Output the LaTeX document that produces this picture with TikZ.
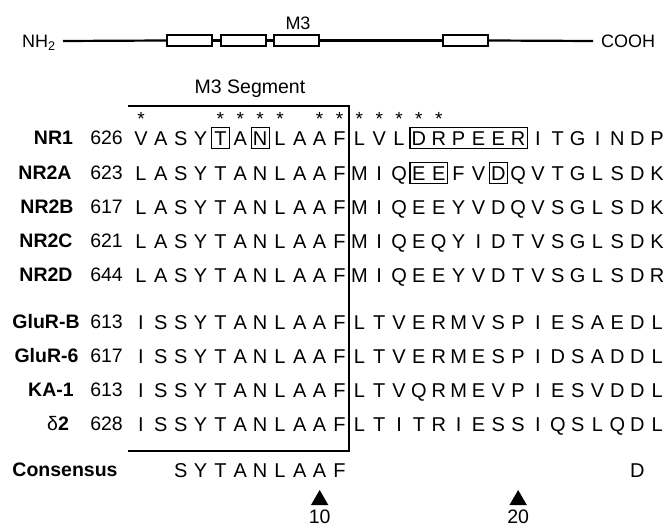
\documentclass[tikz,border=0pt]{standalone}
\usepackage{fontspec}
\setmainfont{Liberation Sans}
\usetikzlibrary{shapes.geometric}
\newcommand\seqrow[3]{%
  \foreach \s [count=\i from 0] in {#3}
    \node[aa] (#1c\i) at ({141+19.85*\i},#2) {\s};}
\begin{document}
\begin{tikzpicture}[x=1pt,y=-1pt,
  aa/.style={font=\fontsize{20}{21}\selectfont, inner sep=0pt, text height=14.3pt, text depth=0pt},
  lab/.style={font=\fontsize{19.5}{20}\selectfont\bfseries, inner sep=0pt, anchor=base},
  num/.style={font=\fontsize{19.5}{20}\selectfont, inner sep=0pt, anchor=base east},
  txt/.style={font=\fontsize{19.5}{20}\selectfont, inner sep=0pt, anchor=base},
  small/.style={font=\fontsize{18}{19}\selectfont, inner sep=0pt, anchor=base},
  asterisk/.style={font=\fontsize{19}{20}\selectfont, inner sep=0pt, anchor=base},
  seg/.style={draw, line width=1.4pt, fill=white, minimum width=45pt, minimum height=11pt, inner sep=0pt},
  chain/.style={line width=2.2pt},
  frame/.style={line width=1.4pt},
  hbox/.style={line width=1.2pt},
  tri/.style={regular polygon, regular polygon sides=3, fill=black, inner sep=0pt, minimum size=20pt}]
\useasboundingbox (0,0) rectangle (667,526);
% ---- top domain diagram
\node[small] (nh2) at (39,48) {NH\textsubscript{2}};
\coordinate (chainL) at (63,41);
\node[seg] (b1) at (189.5,40.5) {};
\node[seg] (b2) at (243.5,40.5) {};
\node[seg] (b3) at (296.5,40.5) {};
\node[seg] (b4) at (465.5,40.5) {};
\node[small, anchor=base west] (cooh) at (601,48) {COOH};
\coordinate (chainR) at (593,41);
\draw[chain] (chainL) -- (b1.west);
\draw[chain] (b1.east) -- (b2.west);
\draw[chain] (b2.east) -- (b3.west);
\draw[chain] (b3.east) -- (b4.west);
\draw[chain] (b4.east) -- (chainR);
\node[small] (m3) at (298,30) {M3};
% ---- alignment
\node[txt] (m3seg) at (250,94) {M3 Segment};
\coordinate (ftl) at (128,106);
\coordinate (ftr) at (349,106);
\coordinate (fbr) at (349,451);
\coordinate (fbl) at (128,451);
\draw[frame] (ftl) -- (ftr) -- (fbr) -- (fbl);
\foreach \i in {0,4,5,6,7,9,10,11,12,13,14,15}
  \node[asterisk] (st\i) at ({141+19.85*\i},126) {*};
% labels and numbers
\node[lab] (lNR1) at (53.5,145) {NR1};
\node[num] (nNR1) at (123,145) {626};
\node[lab] (lNR2A) at (45,180) {NR2A};
\node[num] (nNR2A) at (123,180) {623};
\node[lab] (lNR2B) at (47,214) {NR2B};
\node[num] (nNR2B) at (123,214) {617};
\node[lab] (lNR2C) at (46,248) {NR2C};
\node[num] (nNR2C) at (123,248) {621};
\node[lab] (lNR2D) at (46,282) {NR2D};
\node[num] (nNR2D) at (123,282) {644};
\node[lab] (lGB) at (46,329) {GluR-B};
\node[num] (nGB) at (123,329) {613};
\node[lab] (lG6) at (46.5,363) {GluR-6};
\node[num] (nG6) at (123,363) {617};
\node[lab] (lKA) at (51,397) {KA-1};
\node[num] (nKA) at (123,397) {613};
\node[lab] (lD2) at (58,431) {{\mdseries δ}2};
\node[num] (nD2) at (123,431) {628};
\node[lab] (lCons) at (65,477) {Consensus};
% sequences
\seqrow{ra}{138}{V,A,S,Y,T,A,N,L,A,A,F,L,V,L,D,R,P,E,E,R,I,T,G,I,N,D,P}
\seqrow{rb}{173}{L,A,S,Y,T,A,N,L,A,A,F,M,I,Q,E,E,F,V,D,Q,V,T,G,L,S,D,K}
\seqrow{rc}{207}{L,A,S,Y,T,A,N,L,A,A,F,M,I,Q,E,E,Y,V,D,Q,V,S,G,L,S,D,K}
\seqrow{rd}{241}{L,A,S,Y,T,A,N,L,A,A,F,M,I,Q,E,Q,Y,I,D,T,V,S,G,L,S,D,K}
\seqrow{re}{275}{L,A,S,Y,T,A,N,L,A,A,F,M,I,Q,E,E,Y,V,D,T,V,S,G,L,S,D,R}
\seqrow{rf}{322}{I,S,S,Y,T,A,N,L,A,A,F,L,T,V,E,R,M,V,S,P,I,E,S,A,E,D,L}
\seqrow{rg}{356}{I,S,S,Y,T,A,N,L,A,A,F,L,T,V,E,R,M,E,S,P,I,D,S,A,D,D,L}
\seqrow{rh}{390}{I,S,S,Y,T,A,N,L,A,A,F,L,T,V,Q,R,M,E,V,P,I,E,S,V,D,D,L}
\seqrow{ri}{424}{I,S,S,Y,T,A,N,L,A,A,F,L,T,I,T,R,I,E,S,S,I,Q,S,L,Q,D,L}
% consensus
\foreach \s [count=\i from 2] in {S,Y,T,A,N,L,A,A,F}
  \node[aa] (cc\i) at ({141+19.85*\i},470) {\s};
\node[aa] (cc25) at ({141+19.85*25},470) {D};
% boxed residues
\draw[hbox] ([shift={(-9,-10.5)}]rac4.center) rectangle ([shift={(9,10.5)}]rac4.center);
\draw[hbox] ([shift={(-9,-10.5)}]rac6.center) rectangle ([shift={(9,10.5)}]rac6.center);
\draw[hbox] ([shift={(-9,-10.5)}]rac14.center) rectangle ([shift={(9,10.5)}]rac19.center);
\draw[hbox] ([shift={(-9,-10.5)}]rbc14.center) rectangle ([shift={(9,10.5)}]rbc15.center);
\draw[hbox] ([shift={(-9,-10.5)}]rbc18.center) rectangle ([shift={(9,10.5)}]rbc18.center);
% markers
\node[tri] (tri10) at ({141+19.85*9},500) {};
\node[tri] (tri20) at ({141+19.85*19},500) {};
\node[txt] (p10) at ({141+19.85*9},523) {10};
\node[txt] (p20) at ({141+19.85*19},523) {20};
\end{tikzpicture}
\end{document}
